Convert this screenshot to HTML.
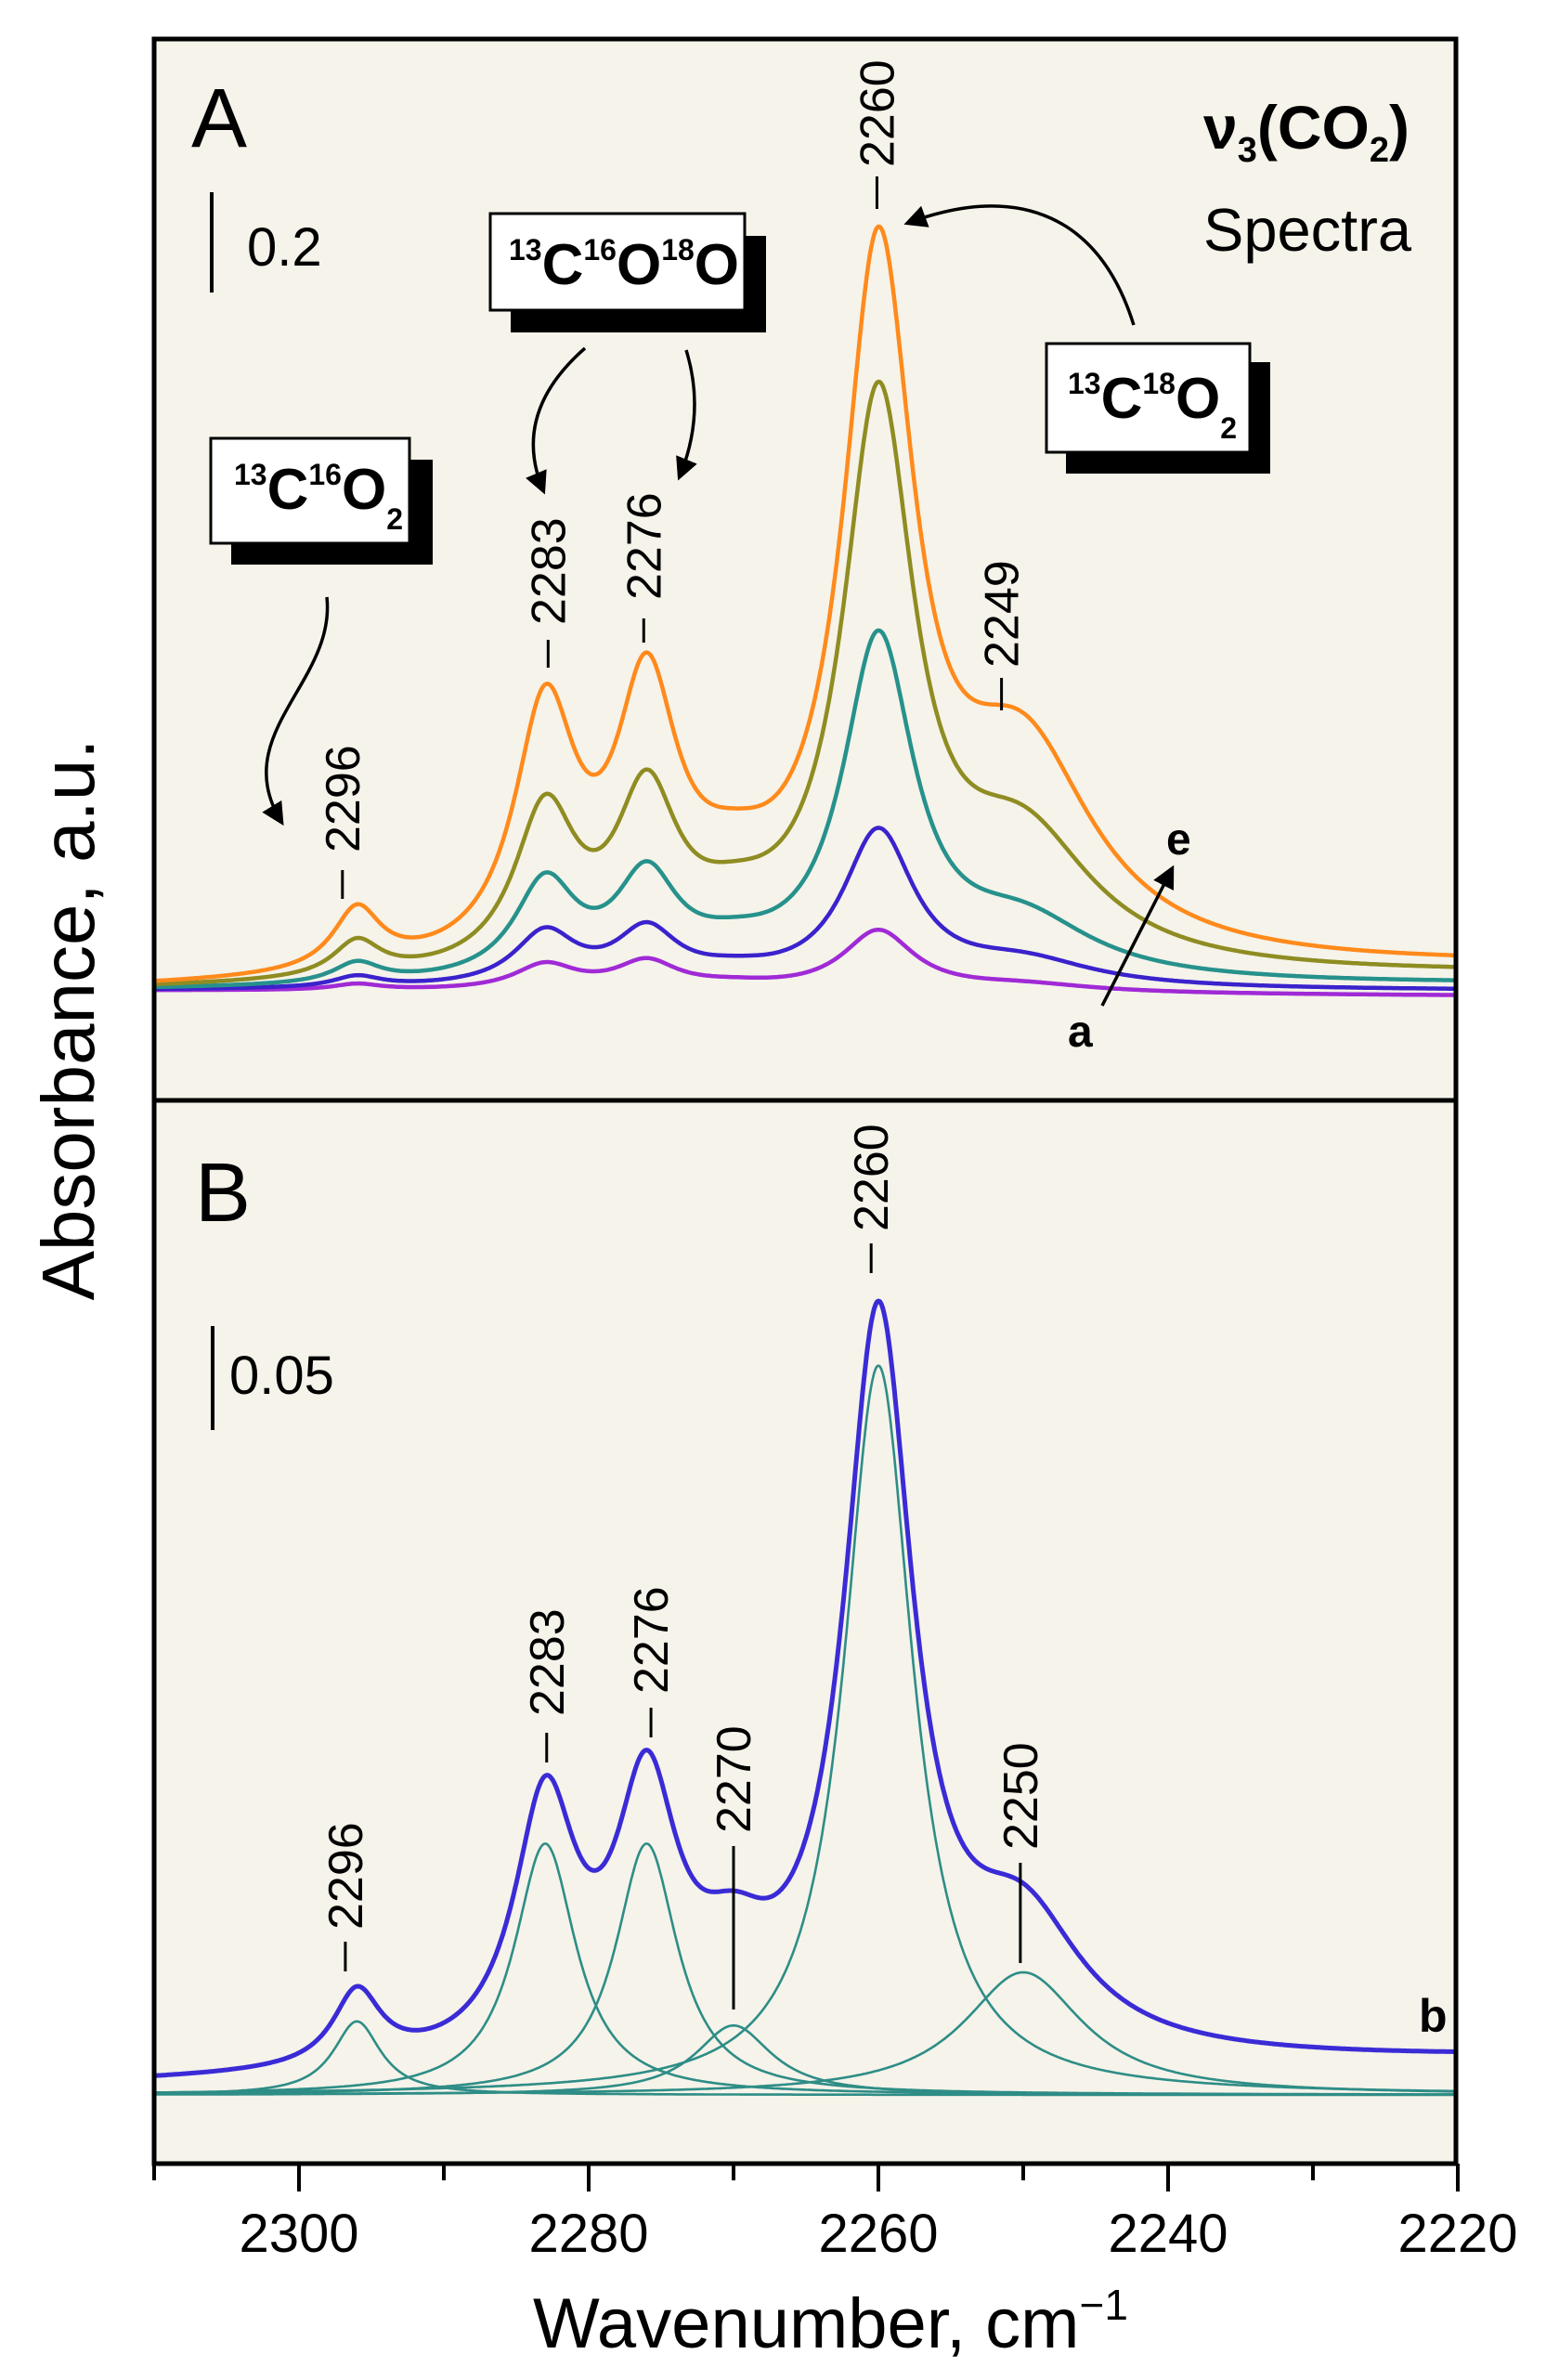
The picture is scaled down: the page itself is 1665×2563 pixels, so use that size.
<!DOCTYPE html>
<html><head><meta charset="utf-8"><style>
html,body{margin:0;padding:0;background:#fff;}
svg{display:block;font-family:"Liberation Sans",Arial,sans-serif;}
</style></head><body>
<svg id="chart" width="1665" height="2563" viewBox="0 0 1665 2563" xmlns="http://www.w3.org/2000/svg">
<defs>
<marker id="ah" viewBox="0 0 10 10" refX="8" refY="5" markerWidth="7" markerHeight="7" orient="auto"><path d="M0,0 L10,5 L0,10 z" fill="#000"/></marker>
</defs>
<rect x="166" y="42" width="1402" height="1143" fill="#f5f3ea"/>
<rect x="166" y="1185" width="1402" height="1145" fill="#f5f3ea"/>
<g id="curvesA"></g>
<g id="curvesB"></g>
<rect x="166" y="42" width="1402" height="2288" fill="none" stroke="#000" stroke-width="5"/>
<line x1="166" y1="1185" x2="1568" y2="1185" stroke="#000" stroke-width="5"/>
<g id="xaxis"></g>
<text x="574" y="2528" font-size="76">Wavenumber, cm<tspan dy="-30" font-size="46">−1</tspan></text>
<text transform="translate(101,1098) rotate(-90)" text-anchor="middle" font-size="80">Absorbance, a.u.</text>

<text x="206" y="158" font-size="90">A</text>
<text x="210" y="1315" font-size="90">B</text>
<line x1="228" y1="207" x2="228" y2="315" stroke="#000" stroke-width="4"/>
<text x="266" y="286" font-size="58">0.2</text>
<line x1="229" y1="1428" x2="229" y2="1540" stroke="#000" stroke-width="4"/>
<text x="247" y="1501" font-size="58">0.05</text>

<text x="1296" y="160" font-size="66" font-weight="bold">ν<tspan dy="14" font-size="38">3</tspan><tspan dy="-14">(CO</tspan><tspan dy="14" font-size="38">2</tspan><tspan dy="-14">)</tspan></text>
<text x="1296" y="270" font-size="65">Spectra</text>

<g>
<rect x="550" y="254" width="275" height="104" fill="#000"/>
<rect x="528" y="230" width="274" height="104" fill="#fff" stroke="#000" stroke-width="3"/>
<text x="548" y="306" font-size="62" font-weight="bold"><tspan font-size="32" dy="-26">13</tspan><tspan dy="26">C</tspan><tspan font-size="32" dy="-26">16</tspan><tspan dy="26">O</tspan><tspan font-size="32" dy="-26">18</tspan><tspan dy="26">O</tspan></text>
</g>
<g>
<rect x="249" y="495" width="217" height="113" fill="#000"/>
<rect x="227" y="472" width="214" height="113" fill="#fff" stroke="#000" stroke-width="3"/>
<text x="252" y="548" font-size="62" font-weight="bold"><tspan font-size="32" dy="-26">13</tspan><tspan dy="26">C</tspan><tspan font-size="32" dy="-26">16</tspan><tspan dy="26">O</tspan><tspan font-size="32" dy="22">2</tspan></text>
</g>
<g>
<rect x="1148" y="390" width="220" height="120" fill="#000"/>
<rect x="1127" y="370" width="219" height="117" fill="#fff" stroke="#000" stroke-width="3"/>
<text x="1150" y="450" font-size="62" font-weight="bold"><tspan font-size="32" dy="-26">13</tspan><tspan dy="26">C</tspan><tspan font-size="32" dy="-26">18</tspan><tspan dy="26">O</tspan><tspan font-size="32" dy="22">2</tspan></text>
</g>
<g fill="none" stroke="#000" stroke-width="3.5">
<path d="M1221,350 C1185,235 1100,195 978,240" marker-end="url(#ah)"/>
<path d="M630,375 Q550,445 585,528" marker-end="url(#ah)"/>
<path d="M739,377 Q760,445 732,513" marker-end="url(#ah)"/>
<path d="M352,643 C362,735 245,790 303,885" marker-end="url(#ah)"/>
<path d="M1187,1083 L1262,936" marker-end="url(#ah)"/>
</g>
<text x="1256" y="920" font-size="48" font-weight="bold">e</text>
<text x="1150" y="1127" font-size="48" font-weight="bold">a</text>
<text x="1528" y="2188" font-size="50" font-weight="bold">b</text>
<g id="peaklabels"></g>
</svg>
<script>
const X0 = 2310, X1 = 2220, PX0 = 166, PX1 = 1570;
function xs(w){ return PX0 + (X0 - w) / (X0 - X1) * (PX1 - PX0); }
const A_BASE = 1067, A_SCALE = 540;
function yA(a){ return A_BASE - a * A_SCALE; }
const B_BASE = 2256, B_SCALE = 2200;
function yB(a){ return B_BASE - a * B_SCALE; }

const peakCenters = [2296, 2283, 2276, 2270, 2260, 2250];
const peakWidthsA = [2.0, 2.6, 2.6, 4.0, 3.0, 6.0];
const peakWidthsB = [2.0, 2.6, 2.6, 3.2, 2.9, 5.0];
const ampOrange = [0.12, 0.49, 0.50, 0.10, 1.36, 0.40];
const ampOlive  = [0.07, 0.31, 0.32, 0.07, 1.11, 0.25];
const ampTeal   = [0.04, 0.19, 0.19, 0.04, 0.67, 0.11];
const ampBlue   = [0.022, 0.105, 0.105, 0.02, 0.305, 0.05];
const ampPurple = [0.012, 0.05, 0.055, 0.01, 0.12, 0.015];
const endOffsetA = [0.045, 0.030, 0.012, 0.0, -0.01];
const ampB = [0.036, 0.123, 0.123, 0.034, 0.357, 0.060];
const offsetB = [0.005, 0.017];
const ticksMajor = [2300, 2280, 2260, 2240, 2220];
const ticksMinor = [2310, 2290, 2270, 2250, 2230];
const tickLabels = ["2300", "2280", "2260", "2240", "2220"];
const labelsA = [["2260",2260.1,180,190,225],["2283",2282.8,673,689,719],["2276",2276.2,646,666,692],["2249",2251.5,719,730,765],["2296",2297.0,918,937,968]];
const labelsB = [["2296",2296.8,2078,2091,2123],["2283",2282.9,1848,1866,1898],["2276",2275.7,1824,1839,1871],["2270",2270.0,1974,1988,2164],["2260",2260.5,1326,1339,1371],["2250",2250.2,1992,2006,2114]];

const NS = "http://www.w3.org/2000/svg";
function lor(w, c, g){ return 1 / (1 + ((w - c) / g) ** 2); }
function curve(amps, widths, idxs, off0, off1, yf){
  let d = "";
  for (let i = 0; i <= 900; i++){
    const w = X0 - i * (X0 - X1) / 900;
    let a = off0 + (off1 - off0) * (X0 - w) / (X0 - X1);
    for (const k of idxs) a += amps[k] * lor(w, peakCenters[k], widths[k]);
    d += (i ? "L" : "M") + xs(w).toFixed(1) + "," + yf(a).toFixed(1);
  }
  return d;
}
function addPath(g, d, color, sw, name){
  const p = document.createElementNS(NS, "path");
  p.setAttribute("d", d); p.setAttribute("fill", "none");
  p.setAttribute("stroke", color); p.setAttribute("stroke-width", sw);
  p.setAttribute("stroke-linejoin", "round");
  
  
  g.appendChild(p);
}
const all = [0,1,2,3,4,5];
const gA = document.getElementById("curvesA");
const specs = [[ampPurple,"#a02ad6",4],[ampBlue,"#3a22cc",3],[ampTeal,"#27918c",2],[ampOlive,"#8f8c22",1],[ampOrange,"#ff8a1c",0]];
const specNames = ["spectrum-a","spectrum-b","spectrum-c","spectrum-d","spectrum-e"];
specs.forEach((s, i) => addPath(gA, curve(s[0], peakWidthsA, all, 0, endOffsetA[s[2]], yA), s[1], 4.5, specNames[i]));

const gB = document.getElementById("curvesB");
all.forEach(k => addPath(gB, curve(ampB, peakWidthsB, [k], 0, 0, yB), "#2e8d86", 2.6, "component-" + peakCenters[k]));
addPath(gB, curve(ampB, peakWidthsB, all, offsetB[0], offsetB[1], yB), "#3a2bd6", 5, "envelope-spectrum-b");

const gx = document.getElementById("xaxis");
function ln(g, x1, y1, x2, y2, sw, name){
  const l = document.createElementNS(NS, "line");
  l.setAttribute("x1", x1); l.setAttribute("y1", y1); l.setAttribute("x2", x2); l.setAttribute("y2", y2);
  l.setAttribute("stroke", "#000"); l.setAttribute("stroke-width", sw);
  
  
  g.appendChild(l);
}
ticksMajor.forEach((t, i) => {
  ln(gx, xs(t), 2330, xs(t), 2360, 4, "x-major-tick");
  const tx = document.createElementNS(NS, "text");
  tx.setAttribute("x", xs(t)); tx.setAttribute("y", 2425); tx.setAttribute("font-size", 58);
  tx.setAttribute("text-anchor", "middle"); tx.textContent = tickLabels[i];
  
  
  gx.appendChild(tx);
});
ticksMinor.forEach(t => ln(gx, xs(t), 2330, xs(t), 2348, 4, "x-minor-tick"));

const gl = document.getElementById("peaklabels");
function plab(L){
  const x = xs(L[1]);
  const tx = document.createElementNS(NS, "text");
  tx.setAttribute("transform", "translate(" + (x + 18) + "," + L[2] + ") rotate(-90)");
  tx.setAttribute("font-size", 52); tx.textContent = L[0];
  
  
  gl.appendChild(tx);
  ln(gl, x, L[3], x, L[4], 3, "peak-marker-" + L[0]);
}
labelsA.forEach(plab);
labelsB.forEach(plab);
</script>
</body></html>
